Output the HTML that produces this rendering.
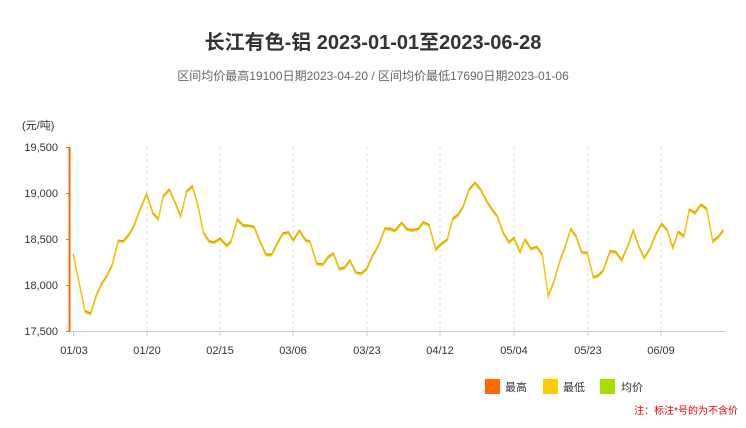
<!DOCTYPE html>
<html><head><meta charset="utf-8"><style>
body{margin:0;background:#fff;}
svg{display:block;font-family:"Liberation Sans","Noto Sans CJK SC",sans-serif;}
</style></head><body>
<svg id="s" width="746" height="428" xmlns="http://www.w3.org/2000/svg">
<text x="373" y="49" text-anchor="middle" font-size="20" font-weight="bold" fill="#333">长江有色-铝 2023-01-01至2023-06-28</text>
<text x="373" y="80" text-anchor="middle" font-size="12" fill="#666">区间均价最高19100日期2023-04-20 / 区间均价最低17690日期2023-01-06</text>
<text x="22" y="129" font-size="11" fill="#333">(元/吨)</text>
<g font-size="11" fill="#333" text-anchor="end">
<text x="58" y="151">19,500</text><text x="58" y="197">19,000</text><text x="58" y="243">18,500</text><text x="58" y="289">18,000</text><text x="58" y="335">17,500</text>
</g>
<g stroke="#ddd" stroke-dasharray="3,3" stroke-width="1">
<line x1="147" y1="147" x2="147" y2="331"/><line x1="220" y1="147" x2="220" y2="331"/><line x1="293" y1="147" x2="293" y2="331"/><line x1="367" y1="147" x2="367" y2="331"/><line x1="440" y1="147" x2="440" y2="331"/><line x1="514" y1="147" x2="514" y2="331"/><line x1="588" y1="147" x2="588" y2="331"/><line x1="661" y1="147" x2="661" y2="331"/>
</g>
<line x1="69" y1="331.5" x2="725" y2="331.5" stroke="#ccc"/>
<line x1="69.5" y1="147" x2="69.5" y2="332" stroke="#ff6a00" stroke-width="2"/>
<g stroke="#ff6a00"><line x1="66" y1="147.5" x2="70" y2="147.5"/><line x1="66" y1="193.5" x2="70" y2="193.5"/><line x1="66" y1="239.5" x2="70" y2="239.5"/><line x1="66" y1="285.5" x2="70" y2="285.5"/><line x1="66" y1="331.5" x2="70" y2="331.5"/></g>
<g stroke="#ccc"><line x1="73.5" y1="331" x2="73.5" y2="336"/><line x1="147" y1="331" x2="147" y2="336"/><line x1="220" y1="331" x2="220" y2="336"/><line x1="293" y1="331" x2="293" y2="336"/><line x1="367" y1="331" x2="367" y2="336"/><line x1="440" y1="331" x2="440" y2="336"/><line x1="514" y1="331" x2="514" y2="336"/><line x1="588" y1="331" x2="588" y2="336"/><line x1="661" y1="331" x2="661" y2="336"/></g>
<g font-size="11" fill="#333" text-anchor="middle">
<text x="74" y="354">01/03</text><text x="147" y="354">01/20</text><text x="220" y="354">02/15</text><text x="293" y="354">03/06</text><text x="367" y="354">03/23</text><text x="440" y="354">04/12</text><text x="514" y="354">05/04</text><text x="588" y="354">05/23</text><text x="661" y="354">06/09</text>
</g>
<g id="lines" fill="none" stroke-width="1"></g>
<rect x="485" y="379" width="15" height="15" fill="#ff6a00"/><text x="505" y="391" font-size="11" fill="#333">最高</text>
<rect x="543" y="379" width="15" height="15" fill="#ffcc00"/><text x="563" y="391" font-size="11" fill="#333">最低</text>
<rect x="600" y="379" width="15" height="15" fill="#aadd00"/><text x="621" y="391" font-size="11" fill="#333">均价</text>
<text x="738" y="414" text-anchor="end" font-size="10" fill="#e00">注：标注*号的为不含价</text>
</svg>
<script>
var a=[[40,345],[75,515],[92,522],[108,470],[125,432],[140,410],[157,375],[175,303],[190,305],[207,285],[222,258],[240,210],[260,163],[278,220],[295,238],[310,170],[328,150],[345,188],[362,230],[380,155],[397,140],[413,195],[430,278],[447,305],[463,308],[480,297],[500,318],[513,306],[532,240],[550,258],[565,258],[582,262],[600,305],[618,345],[635,345],[650,315],[668,282],[685,278],[700,303],[718,273],[737,302],[750,306],[770,372],[788,375],[805,352],[820,342],[838,388],[853,385],[870,363],[887,398],[903,402],[920,388],[937,350],[955,318],[975,267]];
var b=[[0,268],[15,273],[35,250],[50,268],[65,272],[85,268],[100,248],[117,256],[137,330],[155,312],[172,300],[188,238],[205,225],[220,200],[237,150],[255,130],[272,150],[290,185],[305,208],[322,230],[340,280],[357,308],[372,295],[390,338],[405,300],[423,328],[440,322],[457,345],[475,470],[492,425],[510,363],[525,323],[542,268],[558,290],[575,338],[592,340],[610,413],[625,408],[640,392],[660,335],[677,337],[695,362],[713,320],[730,273],[747,322],[763,355],[780,327],[797,285],[815,253],[832,272],[848,325],[865,277],[882,290],[898,210],[915,220],[933,195],[950,208],[968,305],[985,292],[1000,272]];
var p=a.map(function(q){return[60+q[0]/3,140+q[1]/3]}).concat(b.map(function(q){return[390+q[0]/3,140+q[1]/3]}));
function d(o){return p.map(function(q,i){return(i?'L':'M')+q[0].toFixed(1)+','+(q[1]+o).toFixed(1)}).join('')}
var g=document.getElementById('lines');
[['#ff6a00',-1],['#aadd00',0],['#ffcc00',1]].forEach(function(c){var e=document.createElementNS('http://www.w3.org/2000/svg','path');e.setAttribute('d',d(c[1]));e.setAttribute('stroke',c[0]);g.appendChild(e);});
</script>
</body></html>
